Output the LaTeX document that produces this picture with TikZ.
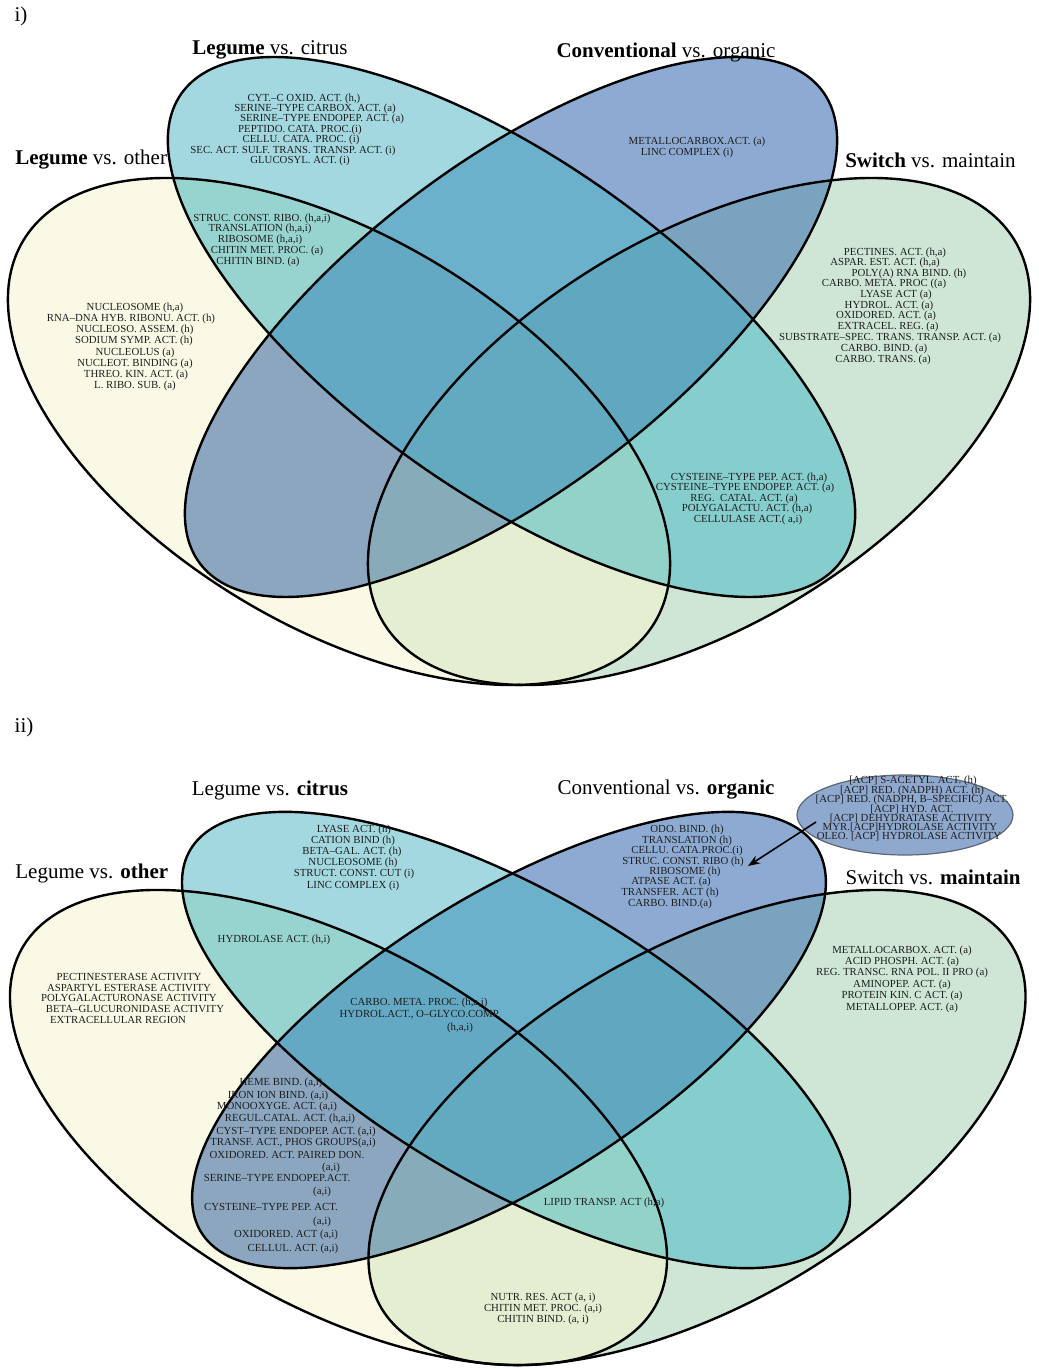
\documentclass[tikz,border=0pt]{standalone}
\usepackage{fontspec}
\setmainfont{Liberation Serif}
\usetikzlibrary{shapes.geometric,arrows.meta}
\definecolor{cA}{HTML}{FAF9E6}
\definecolor{cB}{HTML}{A3D8E0}
\definecolor{cC}{HTML}{8DAAD2}
\definecolor{cD}{HTML}{CFE6D7}
\definecolor{cAB}{HTML}{98D4CF}
\definecolor{cAC}{HTML}{8BA6BE}
\definecolor{cAD}{HTML}{E4EFD2}
\definecolor{cBC}{HTML}{6CB1CC}
\definecolor{cBD}{HTML}{86CDCD}
\definecolor{cCD}{HTML}{7AA3C0}
\definecolor{cABC}{HTML}{63A9C3}
\definecolor{cABD}{HTML}{93D2C8}
\definecolor{cACD}{HTML}{88ABB9}
\definecolor{cBCD}{HTML}{5FA8C0}
\definecolor{cABCD}{HTML}{62AABF}
\definecolor{txtc}{HTML}{1E1E1E}
\definecolor{callfill}{HTML}{8EA8CE}
\definecolor{calldraw}{HTML}{5C6679}
\newcounter{tln}
\newcommand\txtl[3]{\stepcounter{tln}\node[txt] (t\arabic{tln}) at (#1,#2) {#3};}
\newcommand\vpair[2]{\begin{scope}\clip[e#1] (0,0) circle (1);\fill[fill=c#1#2,e#2] (0,0) circle (1);\end{scope}}
\newcommand\vtrip[3]{\begin{scope}\clip[e#1] (0,0) circle (1);\clip[e#2] (0,0) circle (1);\fill[fill=c#1#2#3,e#3] (0,0) circle (1);\end{scope}}
\newcommand\vennfill{%
  \fill[fill=cA,eA] (0,0) circle (1);
  \fill[fill=cB,eB] (0,0) circle (1);
  \fill[fill=cC,eC] (0,0) circle (1);
  \fill[fill=cD,eD] (0,0) circle (1);
  \vpair{A}{B}\vpair{A}{C}\vpair{A}{D}\vpair{B}{C}\vpair{B}{D}\vpair{C}{D}
  \vtrip{A}{B}{C}\vtrip{A}{B}{D}\vtrip{A}{C}{D}\vtrip{B}{C}{D}
  \begin{scope}\clip[eA] (0,0) circle (1);\clip[eB] (0,0) circle (1);\clip[eC] (0,0) circle (1);\fill[fill=cABCD,eD] (0,0) circle (1);\end{scope}
  \draw[outl,eA] (0,0) circle (1);
  \draw[outl,eB] (0,0) circle (1);
  \draw[outl,eC] (0,0) circle (1);
  \draw[outl,eD] (0,0) circle (1);
}
\begin{document}
\begin{tikzpicture}[x=0.5pt,y=-0.5pt,
  txt/.style={font=\fontsize{5.4}{6}\selectfont, inner sep=0pt, text=txtc},
  lab/.style={font=\fontsize{10.5}{12}\selectfont, inner sep=0pt, text=black},
  outl/.style={draw=black, line width=1.2pt}]
\useasboundingbox (0,0) rectangle (1038,1369);
\fill[white] (0,0) rectangle (1038,1369);

% ---------------- panel i ----------------
\begin{scope}
\tikzset{
  eA/.style={shift={(339,431.5)},xscale=1.306,rotate=-45,xscale=312.5,yscale=175.6},
  eD/.style={shift={(699,431.5)},xscale=1.306,rotate=45,xscale=312.5,yscale=175.6},
  eB/.style={shift={(511.5,327)},xscale=1.273,rotate=-45,xscale=351,yscale=150},
  eC/.style={shift={(511,327)},xscale=1.208,rotate=45,xscale=351,yscale=150}}
\vennfill
\end{scope}

\node[lab] (p1) at (21,16) {i)};
\node[lab] (l1b) at (270,50) {\textbf{Legume} vs. citrus};
\node[lab] (l1c) at (666,52) {\textbf{Conventional} vs. organic};
\node[lab,anchor=west] (l1a) at (15,160) {\textbf{Legume} vs. other};
\node[lab,anchor=east] (l1d) at (1016,160) {\textbf{Switch} vs. maintain};

\txtl{304}{99}{CYT.–C OXID. ACT. (h,)}
\txtl{315}{109}{SERINE–TYPE CARBOX. ACT. (a)}
\txtl{322}{119}{SERINE–TYPE ENDOPEP. ACT. (a)}
\txtl{300}{130}{PEPTIDO. CATA. PROC.(i)}
\txtl{301}{140}{CELLU. CATA. PROC. (i)}
\txtl{293}{151}{SEC. ACT. SULF. TRANS. TRANSP. ACT. (i)}
\txtl{300}{161}{GLUCOSYL. ACT. (i)}

\txtl{697}{142}{METALLOCARBOX.ACT. (a)}
\txtl{687}{153}{LINC COMPLEX (i)}

\txtl{135}{308}{NUCLEOSOME (h,a)}
\txtl{131}{319}{RNA–DNA HYB. RIBONU. ACT. (h)}
\txtl{135}{330}{NUCLEOSO. ASSEM. (h)}
\txtl{134}{341}{SODIUM SYMP. ACT. (h)}
\txtl{135}{353}{NUCLEOLUS (a)}
\txtl{135}{364}{NUCLEOT. BINDING (a)}
\txtl{136}{375}{THREO. KIN. ACT. (a)}
\txtl{135}{386}{L. RIBO. SUB. (a)}

\txtl{262}{219}{STRUC. CONST. RIBO. (h,a,i)}
\txtl{260}{229}{TRANSLATION (h,a,i)}
\txtl{260}{240}{RIBOSOME (h,a,i)}
\txtl{267}{251}{CHITIN MET. PROC. (a)}
\txtl{258}{262}{CHITIN BIND. (a)}

\txtl{895}{253}{PECTINES. ACT. (h,a)}
\txtl{885}{263}{ASPAR. EST. ACT. (h,a)}
\txtl{909}{274}{POLY(A) RNA BIND. (h)}
\txtl{884}{284}{CARBO. META. PROC ((a)}
\txtl{896}{295}{LYASE ACT (a)}
\txtl{889}{306}{HYDROL. ACT. (a)}
\txtl{886}{316}{OXIDORED. ACT. (a)}
\txtl{888}{327}{EXTRACEL. REG. (a)}
\txtl{890}{338}{SUBSTRATE–SPEC. TRANS. TRANSP. ACT. (a)}
\txtl{884}{349}{CARBO. BIND. (a)}
\txtl{883}{360}{CARBO. TRANS. (a)}

\txtl{749}{478}{CYSTEINE–TYPE PEP. ACT. (h,a)}
\txtl{745}{488}{CYSTEINE–TYPE ENDOPEP. ACT. (a)}
\txtl{744}{499}{REG.\ \ CATAL. ACT. (a)}
\txtl{747}{509}{POLYGALACTU. ACT. (h,a)}
\txtl{748}{520}{CELLULASE ACT.( a,i)}

% ---------------- panel ii ----------------
\begin{scope}
\tikzset{
  eA/.style={shift={(338.5,1127.5)},xscale=1.383,rotate=-45,xscale=295.7,yscale=159.3},
  eD/.style={shift={(697,1127.5)},xscale=1.383,rotate=45,xscale=295.7,yscale=159.3},
  eB/.style={shift={(516,1040)},xscale=1.464,rotate=-45,xscale=296.6,yscale=126.8},
  eC/.style={shift={(509,1040)},xscale=1.389,rotate=45,xscale=296.6,yscale=126.8}}
\vennfill
\end{scope}

\node[lab] (p2) at (24,727) {ii)};
\node[lab] (l2b) at (270,790) {Legume vs. \textbf{citrus}};
\node[lab] (l2c) at (666,790) {Conventional vs. \textbf{organic}};
\node[lab,anchor=west] (l2a) at (15,873) {Legume vs. \textbf{other}};
\node[lab,anchor=east] (l2d) at (1021,877) {Switch vs. \textbf{maintain}};

\node[ellipse, draw=calldraw, fill=callfill, line width=0.6pt, minimum width=108pt, minimum height=40pt, inner sep=0pt] (co) at (905,815) {};
\coordinate (arS) at (816,822);
\coordinate (arE) at (748,866);
\draw[line width=0.8pt, -{Stealth[length=6pt,width=4.5pt]}] (arS) -- (arE);

\txtl{913}{781}{[ACP] S-ACETYL. ACT. (h)}
\txtl{912}{791}{[ACP] RED. (NADPH) ACT. (h)}
\txtl{912}{800}{[ACP] RED. (NADPH, B–SPECIFIC) ACT.}
\txtl{912}{809}{[ACP] HYD. ACT.}
\txtl{911}{818}{[ACP] DEHYDRATASE ACTIVITY}
\txtl{910}{827}{MYR.[ACP]HYDROLASE ACTIVITY}
\txtl{909}{836}{OLEO. [ACP] HYDROLASE ACTIVITY}

\txtl{354}{830}{LYASE ACT. (h)}
\txtl{353}{841}{CATION BIND (h)}
\txtl{352}{852}{BETA–GAL. ACT. (h)}
\txtl{353}{863}{NUCLEOSOME (h)}
\txtl{354}{874}{STRUCT. CONST. CUT (i)}
\txtl{353}{886}{LINC COMPLEX (i)}

\txtl{687}{830}{ODO. BIND. (h)}
\txtl{687}{841}{TRANSLATION (h)}
\txtl{687}{851}{CELLU. CATA.PROC.(i)}
\txtl{683}{862}{STRUC. CONST. RIBO (h)}
\txtl{685}{872}{RIBOSOME (h)}
\txtl{671}{882}{ATPASE ACT. (a)}
\txtl{670}{893}{TRANSFER. ACT (h)}
\txtl{670}{904}{CARBO. BIND.(a)}

\txtl{274}{940}{HYDROLASE ACT. (h,i)}

\txtl{129}{977}{PECTINESTERASE ACTIVITY}
\txtl{129}{988}{ASPARTYL ESTERASE ACTIVITY}
\txtl{129}{998}{POLYGALACTURONASE ACTIVITY}
\txtl{135}{1009}{BETA–GLUCURONIDASE ACTIVITY}
\txtl{118}{1020}{EXTRACELLULAR REGION}

\txtl{419}{1003}{CARBO. META. PROC. (h,a,i)}
\txtl{420}{1015}{HYDROL.ACT., O–GLYCO.COMP.}
\txtl{460}{1028}{(h,a,i)}

\txtl{902}{951}{METALLOCARBOX. ACT. (a)}
\txtl{902}{962}{ACID PHOSPH. ACT. (a)}
\txtl{902}{973}{REG. TRANSC. RNA POL. II PRO (a)}
\txtl{902}{985}{AMINOPEP. ACT. (a)}
\txtl{902}{996}{PROTEIN KIN. C ACT. (a)}
\txtl{902}{1008}{METALLOPEP. ACT. (a)}

\txtl{281}{1083}{HEME BIND. (a,i)}
\txtl{278}{1096}{IRON ION BIND. (a,i)}
\txtl{277}{1107}{MONOOXYGE. ACT. (a,i)}
\txtl{290}{1119}{REGUL.CATAL. ACT. (h,a,i)}
\txtl{296}{1132}{CYST–TYPE ENDOPEP. ACT. (a,i)}
\txtl{293}{1143}{TRANSF. ACT., PHOS GROUPS(a,i)}
\txtl{287}{1155}{OXIDORED. ACT. PAIRED DON.}
\txtl{331}{1168}{(a,i)}
\txtl{277}{1178}{SERINE–TYPE ENDOPEP.ACT.}
\txtl{322}{1192}{(a,i)}
\txtl{271}{1207}{CYSTEINE–TYPE PEP. ACT.}
\txtl{322}{1222}{(a,i)}
\txtl{286}{1235}{OXIDORED. ACT (a,i)}
\txtl{293}{1249}{CELLUL. ACT. (a,i)}

\txtl{604}{1203}{LIPID TRANSP. ACT (h,a)}

\txtl{543}{1298}{NUTR. RES. ACT (a, i)}
\txtl{543}{1309}{CHITIN MET. PROC. (a,i)}
\txtl{543}{1320}{CHITIN BIND. (a, i)}
\end{tikzpicture}
\end{document}
